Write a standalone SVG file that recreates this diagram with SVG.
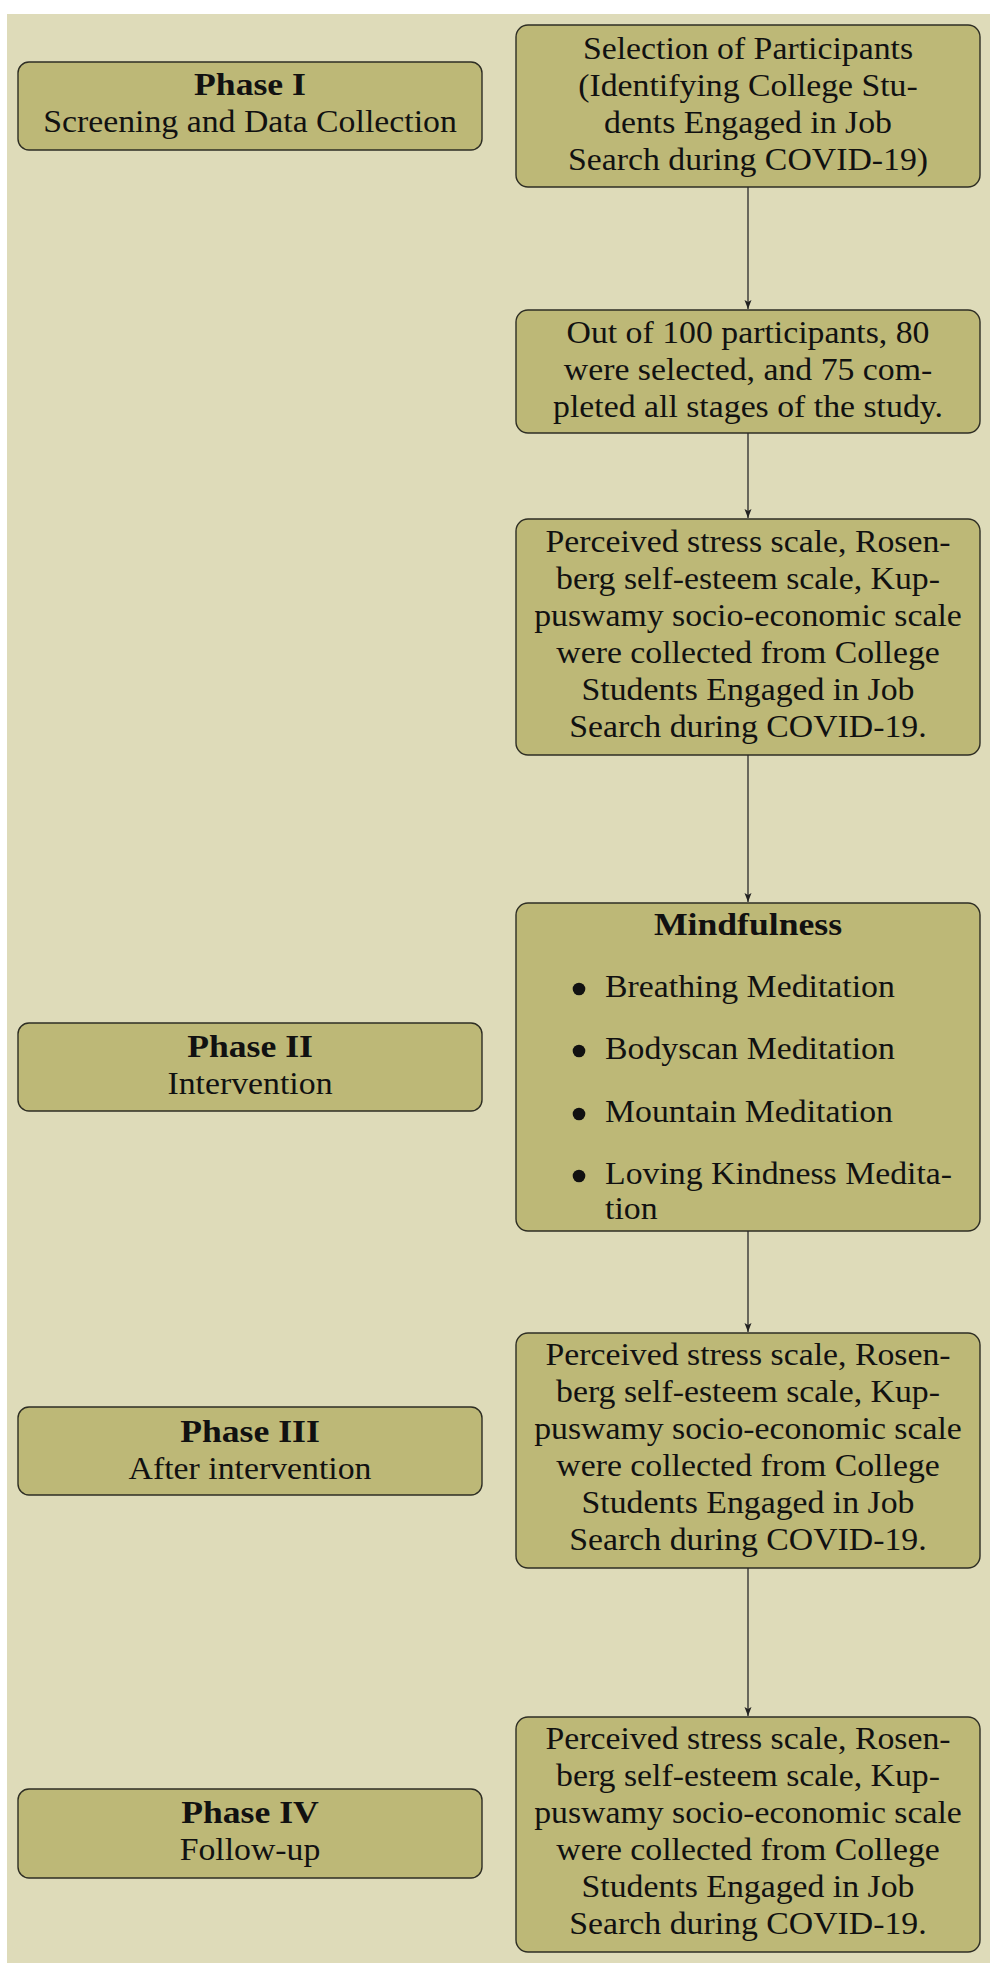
<svg xmlns="http://www.w3.org/2000/svg" width="1000" height="1974" viewBox="0 0 1000 1974">
<defs>
<marker id="arr" markerWidth="10" markerHeight="8" refX="9" refY="3.5" orient="auto" markerUnits="userSpaceOnUse">
<path d="M0,0 L9,3.5 L0,7 L2,3.5 z" fill="#222"/>
</marker>
<style>
.box{fill:#bdb877;stroke:#2e2e24;stroke-width:1.4}
.t{font-family:"Liberation Serif","Times New Roman",serif;font-size:31px;fill:#111;text-anchor:middle}
.b{font-weight:bold}
.l{text-anchor:start}
.dot{fill:#111}
.conn{stroke:#2a2a2a;stroke-width:1.3;fill:none;marker-end:url(#arr)}
</style>
</defs>
<rect x="0" y="0" width="1000" height="1974" fill="#ffffff"/>
<rect x="7" y="14" width="983" height="1949" fill="#dedbb9"/>

<g id="phase1">
<rect class="box" x="18" y="62" width="464" height="88" rx="11"/>
<text class="t b" transform="translate(250 95) scale(1.15 1)">Phase I</text>
<text class="t" transform="translate(250 132) scale(1.09 1)">Screening and Data Collection</text>
</g>
<g id="phase2">
<rect class="box" x="18" y="1023" width="464" height="88" rx="11"/>
<text class="t b" transform="translate(250 1057) scale(1.15 1)">Phase II</text>
<text class="t" transform="translate(250 1094) scale(1.09 1)">Intervention</text>
</g>
<g id="phase3">
<rect class="box" x="18" y="1407" width="464" height="88" rx="11"/>
<text class="t b" transform="translate(250 1442) scale(1.15 1)">Phase III</text>
<text class="t" transform="translate(250 1479) scale(1.09 1)">After intervention</text>
</g>
<g id="phase4">
<rect class="box" x="18" y="1789" width="464" height="89" rx="11"/>
<text class="t b" transform="translate(250 1823) scale(1.15 1)">Phase IV</text>
<text class="t" transform="translate(250 1860) scale(1.09 1)">Follow-up</text>
</g>

<g id="selection">
<rect class="box" x="516" y="25" width="464" height="162" rx="12"/>
<g transform="translate(748 0) scale(1.09 1)">
<text class="t" x="0" y="59">Selection of Participants</text>
<text class="t" x="0" y="96">(Identifying College Stu-</text>
<text class="t" x="0" y="133">dents Engaged in Job</text>
<text class="t" x="0" y="170">Search during COVID-19)</text>
</g>
</g>
<g id="participants">
<rect class="box" x="516" y="310" width="464" height="123" rx="12"/>
<g transform="translate(748 0) scale(1.09 1)">
<text class="t" x="0" y="343">Out of 100 participants, 80</text>
<text class="t" x="0" y="380">were selected, and 75 com-</text>
<text class="t" x="0" y="417">pleted all stages of the study.</text>
</g>
</g>
<g id="pre-test">
<rect class="box" x="516" y="519" width="464" height="236" rx="12"/>
<g transform="translate(748 0) scale(1.09 1)">
<text class="t" x="0" y="552">Perceived stress scale, Rosen-</text>
<text class="t" x="0" y="589">berg self-esteem scale, Kup-</text>
<text class="t" x="0" y="626">puswamy socio-economic scale</text>
<text class="t" x="0" y="663">were collected from College</text>
<text class="t" x="0" y="700">Students Engaged in Job</text>
<text class="t" x="0" y="737">Search during COVID-19.</text>
</g>
</g>
<g id="mindfulness">
<rect class="box" x="516" y="903" width="464" height="328" rx="12"/>
<text class="t b" transform="translate(748 935) scale(1.15 1)">Mindfulness</text>
<circle class="dot" cx="579" cy="989" r="6.3"/>
<circle class="dot" cx="579" cy="1051" r="6.3"/>
<circle class="dot" cx="579" cy="1114" r="6.3"/>
<circle class="dot" cx="579" cy="1176" r="6.3"/>
<g transform="translate(605 0) scale(1.09 1)">
<text class="t l" x="0" y="997">Breathing Meditation</text>
<text class="t l" x="0" y="1059">Bodyscan Meditation</text>
<text class="t l" x="0" y="1122">Mountain Meditation</text>
<text class="t l" x="0" y="1184">Loving Kindness Medita-</text>
<text class="t l" x="0" y="1219">tion</text>
</g>
</g>
<g id="post-test">
<rect class="box" x="516" y="1333" width="464" height="235" rx="12"/>
<g transform="translate(748 0) scale(1.09 1)">
<text class="t" x="0" y="1365">Perceived stress scale, Rosen-</text>
<text class="t" x="0" y="1402">berg self-esteem scale, Kup-</text>
<text class="t" x="0" y="1439">puswamy socio-economic scale</text>
<text class="t" x="0" y="1476">were collected from College</text>
<text class="t" x="0" y="1513">Students Engaged in Job</text>
<text class="t" x="0" y="1550">Search during COVID-19.</text>
</g>
</g>
<g id="follow-up">
<rect class="box" x="516" y="1717" width="464" height="235" rx="12"/>
<g transform="translate(748 0) scale(1.09 1)">
<text class="t" x="0" y="1749">Perceived stress scale, Rosen-</text>
<text class="t" x="0" y="1786">berg self-esteem scale, Kup-</text>
<text class="t" x="0" y="1823">puswamy socio-economic scale</text>
<text class="t" x="0" y="1860">were collected from College</text>
<text class="t" x="0" y="1897">Students Engaged in Job</text>
<text class="t" x="0" y="1934">Search during COVID-19.</text>
</g>
</g>

<g id="connectors">
<line class="conn" x1="748" y1="187" x2="748" y2="309"/>
<line class="conn" x1="748" y1="433" x2="748" y2="518"/>
<line class="conn" x1="748" y1="755" x2="748" y2="902"/>
<line class="conn" x1="748" y1="1231" x2="748" y2="1332"/>
<line class="conn" x1="748" y1="1568" x2="748" y2="1716"/>
</g>
</svg>
